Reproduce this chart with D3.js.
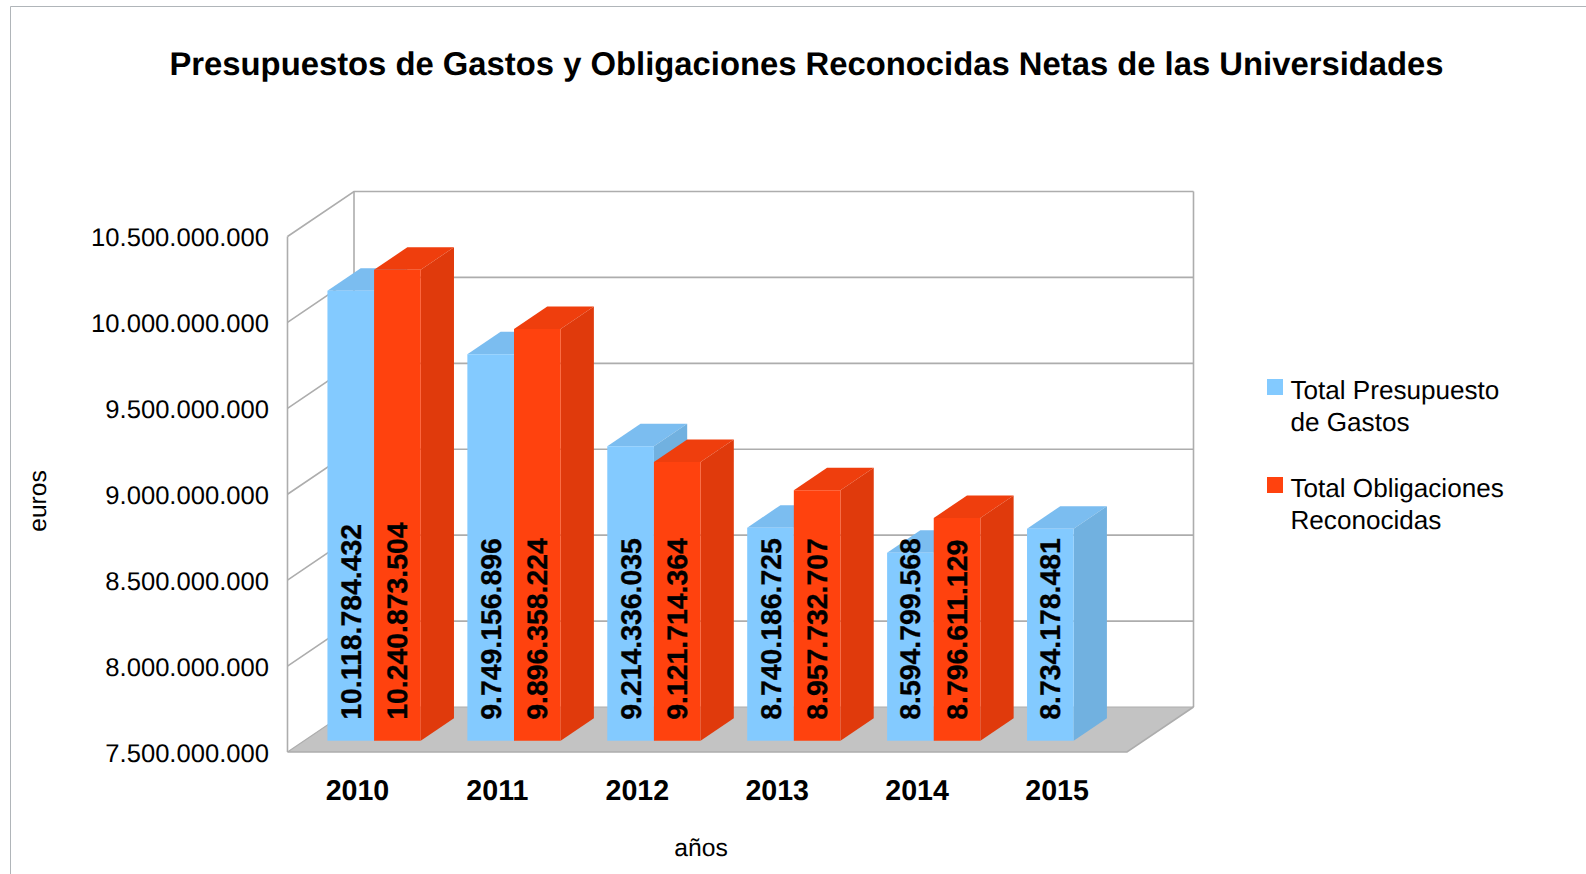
<!DOCTYPE html>
<html><head><meta charset="utf-8">
<script src="https://cdn.jsdelivr.net/npm/d3@7/dist/d3.min.js"></script>
<style>html,body{margin:0;padding:0;background:#fff;overflow:hidden}svg{display:block}text{font-family:"Liberation Sans",Arial,sans-serif;fill:#000;text-rendering:geometricPrecision}</style>
</head><body><svg id="c" width="1586" height="874"></svg>
<script>
const chartTitle = "Presupuestos de Gastos y Obligaciones Reconocidas Netas de las Universidades";
const years = ["2010","2011","2012","2013","2014","2015"];
const seriesNames = ["Total Presupuesto de Gastos","Total Obligaciones Reconocidas"];
const legendLines = [["Total Presupuesto","de Gastos"],["Total Obligaciones","Reconocidas"]];
const presupuesto = [10118784432,9749156896,9214336035,8740186725,8594799568,8734178481];
const obligaciones = [10240873504,9896358224,9121714364,8957732707,8796611129,null];
const yTicks = [7500000000,8000000000,8500000000,9000000000,9500000000,10000000000,10500000000];
const palette = [
  {front:"#83caff",top:"#7bbdf0",side:"#71b1e0"},
  {front:"#ff420e",top:"#ef3e0d",side:"#e03a0c"}
];
const svg = d3.select("#c");
const fmt = d3.formatLocale({decimal:",",thousands:".",grouping:[3],currency:["","€"]}).format(",d");

const x = d3.scaleBand().domain(years).range([287.5,1127]);
const xS = d3.scaleBand().domain([0,1]).range([0,x.bandwidth()]).paddingInner(0).paddingOuter(0.5);
const y = d3.scaleLinear().domain([7.5e9,10.5e9]).range([752,236.5]);
const dX = d3.scaleLinear().domain([0,1]).range([0,66.5]);
const dY = d3.scaleLinear().domain([0,1]).range([0,-45]);
const P = (px,val,d)=>[px+dX(d), y(val)+dY(d)];
const line = d3.line();
const base = yTicks[0], topV = yTicks[yTicks.length-1];
const x0 = x.range()[0], x1 = x.range()[1];

// chart frame
svg.append("path").attr("d","M10.5 874V6.5H1586").attr("fill","none").attr("stroke","#b0b5b9").attr("stroke-width",1);

// floor
svg.append("path").attr("d",line([P(x0,base,0),P(x1,base,0),P(x1,base,1),P(x0,base,1)])+"Z").attr("fill","#c3c3c3");

// walls and grid
const grid = svg.append("g").attr("fill","none").attr("stroke","#adadad").attr("stroke-width",1.6);
yTicks.forEach(t=>{
  grid.append("path").attr("d",line([P(x0,t,0),P(x0,t,1),P(x1,t,1)])).attr("stroke-width",t===base?1.2:1.6);
});
grid.append("path").attr("d",line([P(x0,base,0),P(x0,topV,0)]));
grid.append("path").attr("d",line([P(x0,base,1),P(x0,topV,1)]));
grid.append("path").attr("d",line([P(x1,base,1),P(x1,topV,1)]));
grid.append("path").attr("d",line([P(x0,base,0),P(x1,base,0),P(x1,base,1)]));

// 3D bars
const bars = svg.append("g");
const labels = [];
const D0=0.25, D1=0.75;
years.forEach((yr,i)=>{
  [presupuesto[i],obligaciones[i]].forEach((v,s)=>{
    if(v==null) return;
    const a = x(yr)+xS(s), b = a+xS.bandwidth(), c = palette[s];
    const g = bars.append("g");
    g.append("path").attr("d",line([P(a,v,D0),P(b,v,D0),P(b,v,D1),P(a,v,D1)])+"Z").attr("fill",c.top);
    g.append("path").attr("d",line([P(b,base,D0),P(b,v,D0),P(b,v,D1),P(b,base,D1)])+"Z").attr("fill",c.side);
    g.append("path").attr("d",line([P(a,base,D0),P(b,base,D0),P(b,v,D0),P(a,v,D0)])+"Z").attr("fill",c.front);
    labels.push({v,cx:(a+b)/2+dX(D0),by:y(base)+dY(D0)});
  });
});
svg.append("g").selectAll("text").data(labels).join("text")
  .attr("transform",d=>`translate(${d.cx+10},${d.by-21}) rotate(-90)`)
  .attr("font-size",28.4).attr("font-weight","bold").attr("stroke","#000").attr("stroke-width",0.3).text(d=>fmt(d.v));

// axes
const yAxis = svg.append("g").attr("transform","translate(269,1)")
  .call(d3.axisLeft(y).tickValues(yTicks).tickSize(0).tickPadding(0).tickFormat(fmt));
yAxis.select(".domain").remove();
yAxis.selectAll("text").attr("font-size",25.6).attr("font-family",'"Liberation Sans"').attr("fill","#000");

const xAxis = svg.append("g").attr("transform","translate(0,780)")
  .call(d3.axisBottom(x).tickSize(0).tickPadding(0));
xAxis.select(".domain").remove();
xAxis.selectAll("text").attr("font-size",28.6).attr("font-weight","bold").attr("font-family",'"Liberation Sans"').attr("fill","#000");

// titles
svg.append("text").attr("x",806.5).attr("y",75).attr("text-anchor","middle").attr("font-size",32.8).attr("font-weight","bold").text(chartTitle);
svg.append("text").attr("x",701).attr("y",856).attr("text-anchor","middle").attr("font-size",24.7).text("años");
svg.append("text").attr("transform","translate(46,501) rotate(-90)").attr("text-anchor","middle").attr("font-size",24.6).text("euros");

// legend
const legendTop = [379,477];
seriesNames.forEach((n,i)=>{
  svg.append("rect").attr("x",1267).attr("y",legendTop[i]).attr("width",16).attr("height",16).attr("fill",palette[i].front);
  legendLines[i].forEach((t,j)=>{
    svg.append("text").attr("x",1290.5).attr("y",legendTop[i]+20+j*32).attr("font-size",26.1).text(t);
  });
});
</script></body></html>
